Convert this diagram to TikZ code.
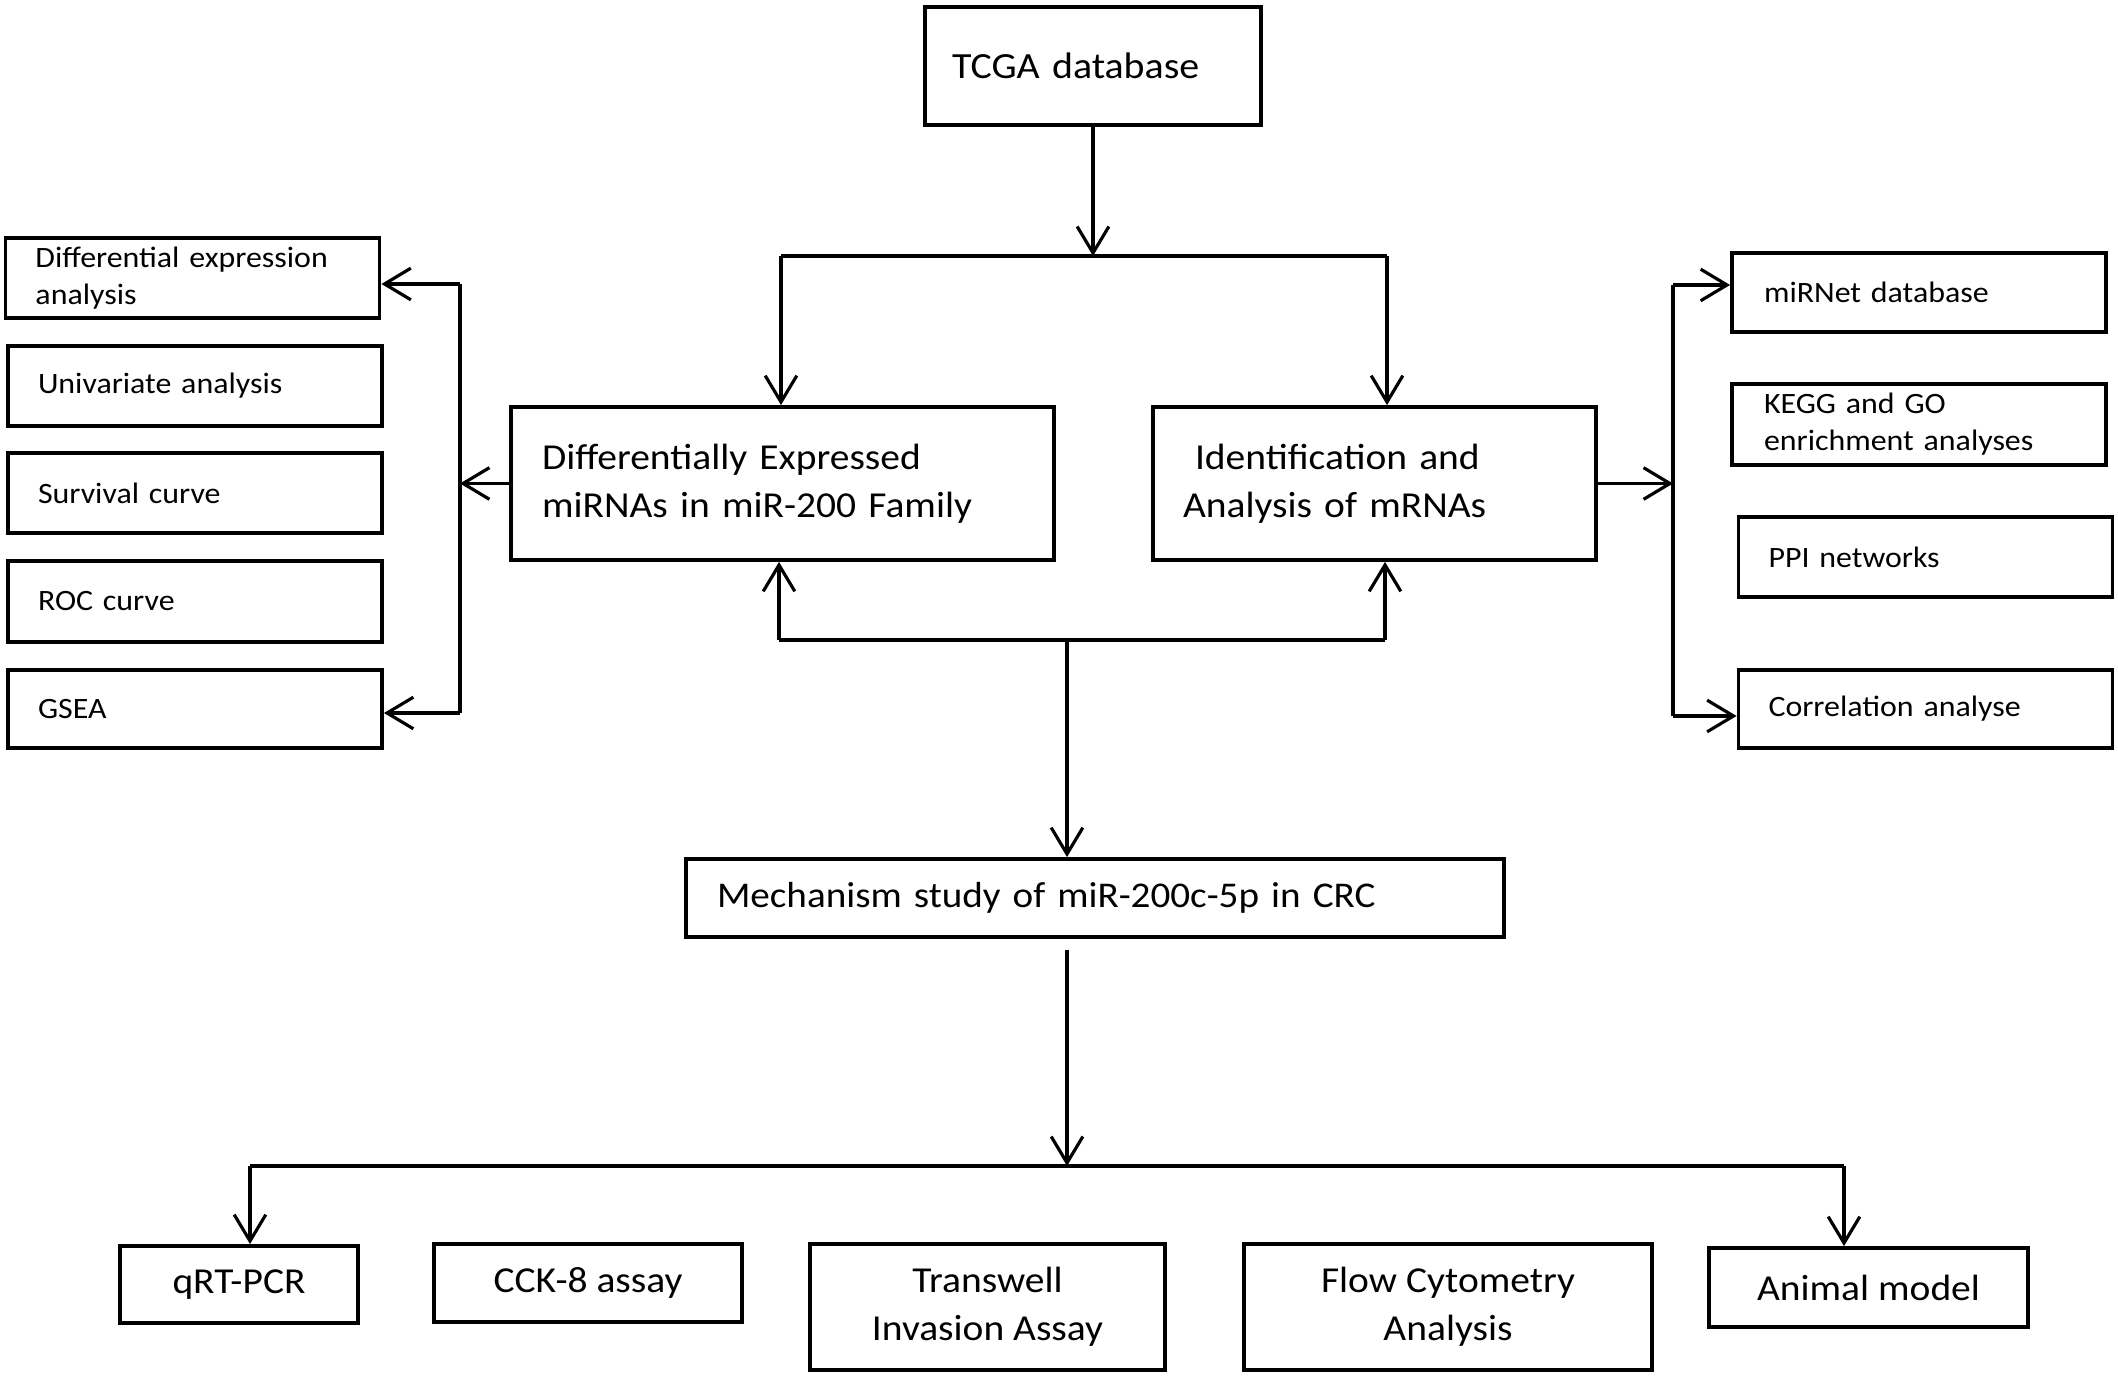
\documentclass[tikz,border=0pt]{standalone}
\usepackage{fontspec}
\setmainfont{Carlito}[FakeStretch=1.08]
\usetikzlibrary{arrows.meta}

\newlength{\du}
\setlength{\du}{0.01cm}
\newcommand{\boxfont}{\fontsize{10.4pt}{13.7pt}\selectfont}
\newcommand{\sidefont}{\fontsize{8.4pt}{10.6pt}\selectfont}

\tikzset{
  mainbox/.style={draw, line width=1.1pt, rectangle, inner ysep=0pt, align=left, font=\boxfont},
  sidebox/.style={draw, line width=1.1pt, rectangle, inner ysep=0pt, inner xsep=30\du, text width=314\du, align=left, font=\sidefont},
  testbox/.style={draw, line width=1.1pt, rectangle, inner sep=0pt, align=center, font=\boxfont},
  link/.style={line width=0.9pt},
  arr/.style={link, -{Straight Barb[length=7.5pt,width=9pt]}},
}

\begin{document}
\begin{tikzpicture}
\pgftransformxscale{1.000000}
\pgftransformyscale{-1.000000}
\useasboundingbox (0\du,0\du) rectangle (2118\du,1377\du);

% main column
\node[mainbox, inner xsep=27\du, text width=282\du, minimum height=118\du, font=\fontsize{10.5pt}{13pt}\selectfont] (tcga) at (1093\du,66\du) {TCGA database};
\node[mainbox, inner xsep=31\du, text width=481\du, minimum height=153\du] (demir) at (782.5\du,483.5\du) {Differentially Expressed\\miRNAs in miR-200 Family};
\node[mainbox, inner xsep=30\du, text width=383\du, minimum height=153\du] (idmrna) at (1374.5\du,483.5\du) {\hspace*{12\du}Identification and\\Analysis of mRNAs};
\node[mainbox, inner xsep=31\du, text width=756\du, minimum height=78\du, font=\fontsize{10.3pt}{13.7pt}\selectfont] (mech) at (1095\du,898\du) {Mechanism study of miR-200c-5p in CRC};

% left column
\node[sidebox, minimum height=80\du] (diffexp) at (192.5\du,278\du) {Differential expression\\analysis};
\node[sidebox, minimum height=80\du] (univ) at (195\du,386\du) {Univariate analysis};
\node[sidebox, minimum height=80\du] (surv) at (195\du,493\du) {Survival curve};
\node[sidebox, minimum height=81\du] (roc) at (195\du,601.5\du) {ROC curve};
\node[sidebox, minimum height=78\du] (gsea) at (195\du,709\du) {GSEA};

% right column
\node[sidebox, inner xsep=32\du, text width=310\du, minimum height=79\du] (mirnet) at (1919\du,292.5\du) {miRNet database};
\node[sidebox, inner xsep=32\du, text width=310\du, minimum height=81\du] (kegg) at (1919\du,424.5\du) {KEGG and GO\\enrichment analyses};
\node[sidebox, minimum height=80\du] (ppi) at (1925.5\du,557\du) {PPI networks};
\node[sidebox, minimum height=78\du] (corr) at (1925.5\du,709\du) {Correlation analyse};

% bottom row
\node[testbox, minimum width=238\du, minimum height=77\du] (qrt) at (239\du,1284.5\du) {qRT-PCR};
\node[testbox, minimum width=308\du, minimum height=78\du] (cck) at (588\du,1283\du) {CCK-8 assay};
\node[testbox, minimum width=355\du, minimum height=126\du] (trans) at (987.5\du,1307\du) {Transwell\\Invasion Assay};
\node[testbox, minimum width=408\du, minimum height=126\du] (flow) at (1448\du,1307\du) {Flow Cytometry\\Analysis};
\node[testbox, minimum width=319\du, minimum height=79\du] (animal) at (1868.5\du,1287.5\du) {Animal model};

% split below TCGA
\coordinate (splitl) at (781\du,256\du);
\coordinate (splitr) at (1387\du,256\du);
\draw[link] (splitl) -- (splitr);
\draw[arr] (tcga.south) -- (tcga.south |- splitl);
\draw[arr] (splitl) -- (splitl |- demir.north);
\draw[arr] (splitr) -- (splitr |- idmrna.north);

% join to mechanism study
\coordinate (joinl) at (779\du,640\du);
\coordinate (joinr) at (1385\du,640\du);
\coordinate (joinm) at (1067\du,640\du);
\draw[link] (joinl) -- (joinr);
\draw[arr] (joinl) -- (joinl |- demir.south);
\draw[arr] (joinr) -- (joinr |- idmrna.south);
\draw[arr] (joinm) -- (joinm |- mech.north);

% experiments
\coordinate (testl) at (250\du,1166\du);
\coordinate (testr) at (1844\du,1166\du);
\coordinate (testm) at (1067\du,1166\du);
\draw[link] (testl) -- (testr);
\draw[arr, shorten <=11\du] (testm |- mech.south) -- (testm);
\draw[arr] (testl) -- (testl |- qrt.north);
\draw[arr] (testr) -- (testr |- animal.north);

% left bracket
\coordinate (leftt) at (460\du,284\du);
\coordinate (leftb) at (460\du,713\du);
\draw[link] (leftt) -- (leftb);
\draw[arr] (demir.west) -- (demir.west -| leftt);
\draw[arr] (leftt) -- (leftt -| diffexp.east);
\draw[arr] (leftb) -- (leftb -| gsea.east);

% right bracket
\coordinate (rightt) at (1673\du,285\du);
\coordinate (rightb) at (1673\du,716\du);
\draw[link] (rightt) -- (rightb);
\draw[arr] (idmrna.east) -- (idmrna.east -| rightt);
\draw[arr] (rightt) -- (rightt -| mirnet.west);
\draw[arr] (rightb) -- (rightb -| corr.west);
\end{tikzpicture}
\end{document}
